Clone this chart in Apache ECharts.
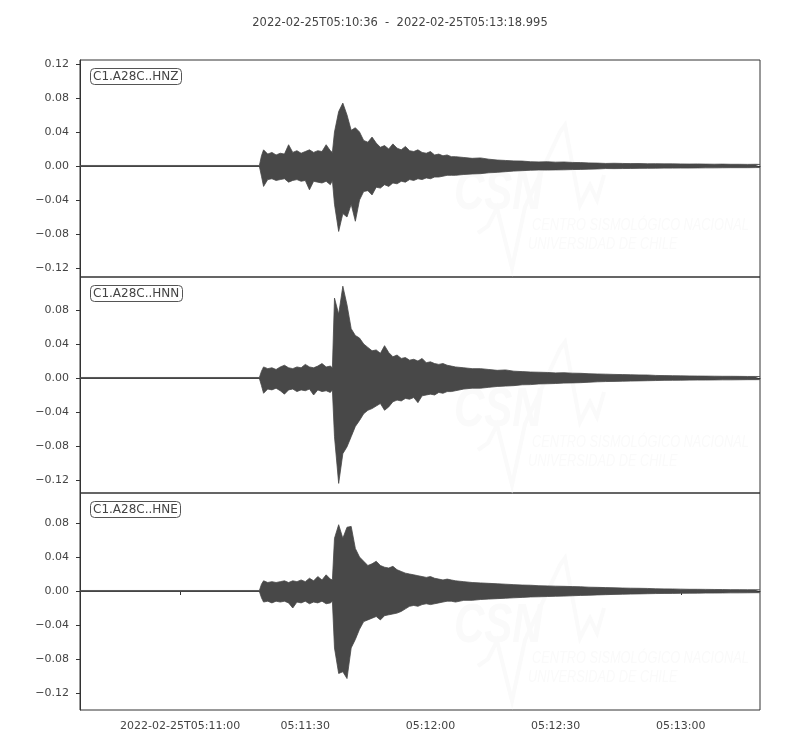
<!DOCTYPE html>
<html>
<head>
<meta charset="utf-8">
<script src="https://cdn.jsdelivr.net/npm/echarts@6/dist/echarts.min.js"></script>
<style>
  html, body { margin: 0; padding: 0; background: #fff; }
  #chart { width: 800px; height: 750px; }
</style>
</head>
<body>
<div id="chart"></div>
<script>
// seconds after 2022-02-25T05:10:36, envelope (max / min) of each trace
const secs = [0, 43,
  43.5, 44, 45, 46, 47, 48, 49, 50, 51, 52, 53, 54, 55, 56, 57, 58, 59, 60, 60.5,
  61, 62, 63, 64, 65, 66, 67, 68, 69, 70, 71, 72, 73, 74, 75, 76, 77, 78, 79, 80,
  81, 82, 83, 84, 85, 86, 87, 88, 89,
  90, 92, 94, 96, 98, 100, 102, 104, 106, 108, 110, 112, 114, 116, 118, 120, 122, 124, 126, 128,
  130, 132, 134, 136, 138, 140, 142, 144, 146, 148, 150, 152, 154, 156, 158, 160, 162, 162.99];

const hnzHi = [0.0006, 0.0006,
  0.012, 0.019, 0.014, 0.016, 0.013, 0.015, 0.014, 0.025, 0.016, 0.018, 0.015, 0.017, 0.019, 0.016, 0.018, 0.017, 0.025, 0.018, 0.016,
  0.040, 0.064, 0.074, 0.060, 0.042, 0.045, 0.040, 0.030, 0.028, 0.034, 0.027, 0.022, 0.024, 0.020, 0.026, 0.021, 0.019, 0.023, 0.018, 0.017,
  0.019, 0.016, 0.015, 0.017, 0.013, 0.014, 0.012, 0.013, 0.011,
  0.011, 0.010, 0.009, 0.0095, 0.008, 0.007, 0.0065, 0.006, 0.0058, 0.005, 0.0048, 0.005, 0.0045, 0.0047, 0.0042, 0.004, 0.0036, 0.0034, 0.003, 0.0032,
  0.003, 0.0028, 0.0029, 0.0026, 0.0027, 0.0025, 0.0025, 0.0024, 0.0023, 0.0024, 0.0022, 0.0021, 0.0022, 0.002, 0.002, 0.0019, 0.002, 0.0018];
const hnzLo = [-0.0006, -0.0006,
  -0.012, -0.024, -0.016, -0.015, -0.017, -0.016, -0.015, -0.019, -0.017, -0.016, -0.018, -0.017, -0.028, -0.018, -0.019, -0.020, -0.018, -0.022, -0.017,
  -0.045, -0.077, -0.056, -0.060, -0.045, -0.065, -0.040, -0.030, -0.029, -0.034, -0.025, -0.026, -0.022, -0.024, -0.020, -0.021, -0.018, -0.019, -0.016, -0.017,
  -0.015, -0.016, -0.014, -0.015, -0.013, -0.013, -0.012, -0.011, -0.011,
  -0.011, -0.010, -0.0094, -0.009, -0.008, -0.0075, -0.0067, -0.006, -0.0055, -0.005, -0.0047, -0.0048, -0.0046, -0.0045, -0.0042, -0.004, -0.0037, -0.0035, -0.003, -0.0031,
  -0.003, -0.0029, -0.0028, -0.0027, -0.0026, -0.0025, -0.0025, -0.0024, -0.0024, -0.0023, -0.0022, -0.0022, -0.0021, -0.002, -0.002, -0.002, -0.0019, -0.0018];

const hnnHi = [0.0006, 0.0006,
  0.008, 0.013, 0.011, 0.012, 0.010, 0.013, 0.015, 0.012, 0.011, 0.013, 0.012, 0.016, 0.013, 0.012, 0.014, 0.017, 0.013, 0.014, 0.012,
  0.094, 0.075, 0.108, 0.086, 0.058, 0.050, 0.047, 0.040, 0.036, 0.032, 0.033, 0.029, 0.038, 0.030, 0.025, 0.027, 0.023, 0.024, 0.021, 0.022,
  0.020, 0.023, 0.018, 0.019, 0.017, 0.016, 0.017, 0.015, 0.014,
  0.013, 0.012, 0.011, 0.011, 0.010, 0.009, 0.0095, 0.008, 0.0075, 0.007, 0.0068, 0.0065, 0.006, 0.0062, 0.0057, 0.0055, 0.005, 0.0047, 0.0045, 0.0042,
  0.004, 0.0038, 0.0036, 0.0035, 0.003, 0.0028, 0.0027, 0.0025, 0.0024, 0.0023, 0.0022, 0.0021, 0.002, 0.002, 0.0019, 0.0018, 0.0018, 0.0017];
const hnnLo = [-0.0006, -0.0006,
  -0.009, -0.018, -0.013, -0.014, -0.012, -0.015, -0.019, -0.014, -0.013, -0.016, -0.014, -0.015, -0.013, -0.020, -0.014, -0.016, -0.015, -0.017, -0.014,
  -0.069, -0.124, -0.089, -0.081, -0.069, -0.057, -0.050, -0.042, -0.038, -0.036, -0.033, -0.030, -0.038, -0.034, -0.028, -0.026, -0.027, -0.024, -0.025, -0.023,
  -0.029, -0.021, -0.020, -0.019, -0.020, -0.017, -0.018, -0.016, -0.016,
  -0.015, -0.013, -0.012, -0.012, -0.011, -0.010, -0.0095, -0.009, -0.008, -0.0078, -0.007, -0.0068, -0.0065, -0.006, -0.0058, -0.0055, -0.005, -0.0045, -0.0042, -0.004,
  -0.0038, -0.0036, -0.0034, -0.0032, -0.003, -0.0028, -0.0027, -0.0026, -0.0025, -0.0024, -0.0024, -0.0023, -0.0022, -0.0022, -0.0021, -0.002, -0.002, -0.0019];

const hneHi = [0.0006, 0.0006,
  0.008, 0.012, 0.010, 0.011, 0.010, 0.011, 0.012, 0.010, 0.012, 0.011, 0.013, 0.011, 0.015, 0.012, 0.017, 0.013, 0.019, 0.014, 0.013,
  0.062, 0.078, 0.062, 0.075, 0.076, 0.050, 0.040, 0.035, 0.030, 0.032, 0.035, 0.030, 0.028, 0.027, 0.029, 0.025, 0.023, 0.021, 0.020, 0.019,
  0.018, 0.017, 0.016, 0.017, 0.015, 0.014, 0.013, 0.014, 0.013,
  0.012, 0.011, 0.010, 0.0095, 0.009, 0.0085, 0.008, 0.0075, 0.007, 0.0068, 0.0062, 0.006, 0.0057, 0.0055, 0.0052, 0.005, 0.0045, 0.0043, 0.004, 0.0038,
  0.0035, 0.0033, 0.0032, 0.003, 0.0026, 0.0025, 0.0024, 0.0022, 0.002, 0.002, 0.0019, 0.0018, 0.0017, 0.0016, 0.0016, 0.0015, 0.0015, 0.0014];
const hneLo = [-0.0006, -0.0006,
  -0.008, -0.013, -0.012, -0.014, -0.012, -0.013, -0.012, -0.014, -0.020, -0.013, -0.014, -0.012, -0.015, -0.013, -0.014, -0.012, -0.015, -0.014, -0.012,
  -0.067, -0.097, -0.095, -0.103, -0.067, -0.057, -0.045, -0.036, -0.034, -0.032, -0.030, -0.034, -0.029, -0.028, -0.027, -0.026, -0.024, -0.021, -0.018, -0.017,
  -0.018, -0.016, -0.015, -0.016, -0.015, -0.014, -0.013, -0.012, -0.012,
  -0.013, -0.011, -0.011, -0.010, -0.0095, -0.009, -0.0085, -0.008, -0.0075, -0.007, -0.0068, -0.0065, -0.0062, -0.006, -0.0056, -0.0052, -0.005, -0.0046, -0.0043, -0.004,
  -0.0038, -0.0036, -0.0034, -0.0032, -0.003, -0.0029, -0.0028, -0.0027, -0.0026, -0.0025, -0.0024, -0.0024, -0.0023, -0.0022, -0.0022, -0.0021, -0.002, -0.002];

const traceNames = ['C1.A28C..HNZ', 'C1.A28C..HNN', 'C1.A28C..HNE'];
const traceHi = [hnzHi, hnnHi, hneHi];
const traceLo = [hnzLo, hnnLo, hneLo];
const yMins = [-0.1306, -0.1353, -0.14];
const yMaxs = [0.1247, 0.1188, 0.1153];

const yTickVals = [-0.12, -0.08, -0.04, 0, 0.04, 0.08, 0.12];
const yTickLabels = ['\u22120.12', '\u22120.08', '\u22120.04', '0.00', '0.04', '0.08', '0.12'];
const xTickSecs = [24, 54, 84, 114, 144];
const xTickLabels = ['2022-02-25T05:11:00', '05:11:30', '05:12:00', '05:12:30', '05:13:00'];
const xMax = 162.995;
const titleText = '2022-02-25T05:10:36  -  2022-02-25T05:13:18.995';

const gridTops = [60, 277, 493];
const gridHeights = [217, 216, 217];
const ink = '#484848';
const textColor = '#444';
const font = 'DejaVu Sans';
const wmColor = '#fafafa';

const chart = echarts.init(document.getElementById('chart'));

const grids = [], xAxes = [], yAxes = [], series = [], titles = [], graphics = [];

titles.push({
    text: titleText,
    left: 'center',
    top: 12,
    textStyle: { color: textColor, fontSize: 11.5, fontWeight: 'normal', fontFamily: font }
});

traceNames.forEach((name, i) => {
    const last = i === traceNames.length - 1;
    grids.push({
        left: 80, width: 680, top: gridTops[i], height: gridHeights[i],
        show: true, borderColor: '#333', borderWidth: 1,
        outerBoundsMode: 'none'
    });

    xAxes.push({
        type: 'value', gridIndex: i, min: 0, max: xMax,
        axisLine: { show: true, lineStyle: { color: '#333' } },
        splitLine: { show: false },
        axisTick: last
            ? { show: true, length: 4, customValues: xTickSecs, lineStyle: { color: '#333' } }
            : { show: false },
        axisLabel: last
            ? {
                show: true, customValues: xTickSecs, margin: 11,
                color: textColor, fontSize: 11, fontFamily: font,
                formatter: v => xTickLabels[xTickSecs.indexOf(v)]
            }
            : { show: false }
    });

    const ticks = yTickVals.filter(v => v >= yMins[i] && v <= yMaxs[i]);
    yAxes.push({
        type: 'value', gridIndex: i, min: yMins[i], max: yMaxs[i],
        axisLine: { show: true, lineStyle: { color: '#333' } },
        splitLine: { show: false },
        axisTick: { show: true, length: 4, customValues: ticks, lineStyle: { color: '#333' } },
        axisLabel: {
            customValues: ticks, margin: 11,
            color: textColor, fontSize: 11, fontFamily: font,
            formatter: v => yTickLabels[yTickVals.findIndex(t => Math.abs(t - v) < 1e-9)]
        }
    });

    [traceHi[i], traceLo[i]].forEach(arr => {
        series.push({
            type: 'line', xAxisIndex: i, yAxisIndex: i,
            data: secs.map((s, k) => [s, arr[k]]),
            showSymbol: false, smooth: false, sampling: 'none',
            lineStyle: { color: ink, width: 0.8 },
            areaStyle: { color: ink, opacity: 1 },
            silent: true
        });
    });

    titles.push({
        text: name,
        left: 90, top: gridTops[i] + 8,
        padding: [2, 3, 2, 3],
        borderColor: '#555', borderWidth: 1, borderRadius: 4,
        backgroundColor: '#fff',
        textStyle: { color: textColor, fontSize: 12, fontWeight: 'normal', fontFamily: font, lineHeight: 13 }
    });

    // faint CSN watermark
    const T = gridTops[i] - 60;
    graphics.push(
        {
            type: 'polyline', z: 0,
            shape: { points: [[478, T + 233], [488, T + 226], [497, T + 208], [512, T + 268], [525, T + 207], [560, T + 132], [565, T + 125], [580, T + 205], [590, T + 185], [597, T + 200], [604, T + 175]] },
            style: { stroke: wmColor, lineWidth: 4, fill: null }
        },
        {
            type: 'text', z: 0, x: 454, y: T + 166, scaleX: 0.75,
            style: { text: 'CSN', fill: wmColor, font: 'italic bold 56px "Liberation Sans"' }
        },
        {
            type: 'text', z: 0, x: 532, y: T + 217, scaleX: 0.75,
            style: { text: 'CENTRO SISMOLÓGICO NACIONAL', fill: wmColor, font: 'italic 17px "Liberation Sans"' }
        },
        {
            type: 'text', z: 0, x: 528, y: T + 236, scaleX: 0.75,
            style: { text: 'UNIVERSIDAD DE CHILE', fill: wmColor, font: 'italic 17px "Liberation Sans"' }
        }
    );
});

chart.setOption({
    backgroundColor: '#fff',
    animation: false,
    title: titles,
    grid: grids,
    xAxis: xAxes,
    yAxis: yAxes,
    graphic: graphics,
    series: series
});
</script>
</body>
</html>
